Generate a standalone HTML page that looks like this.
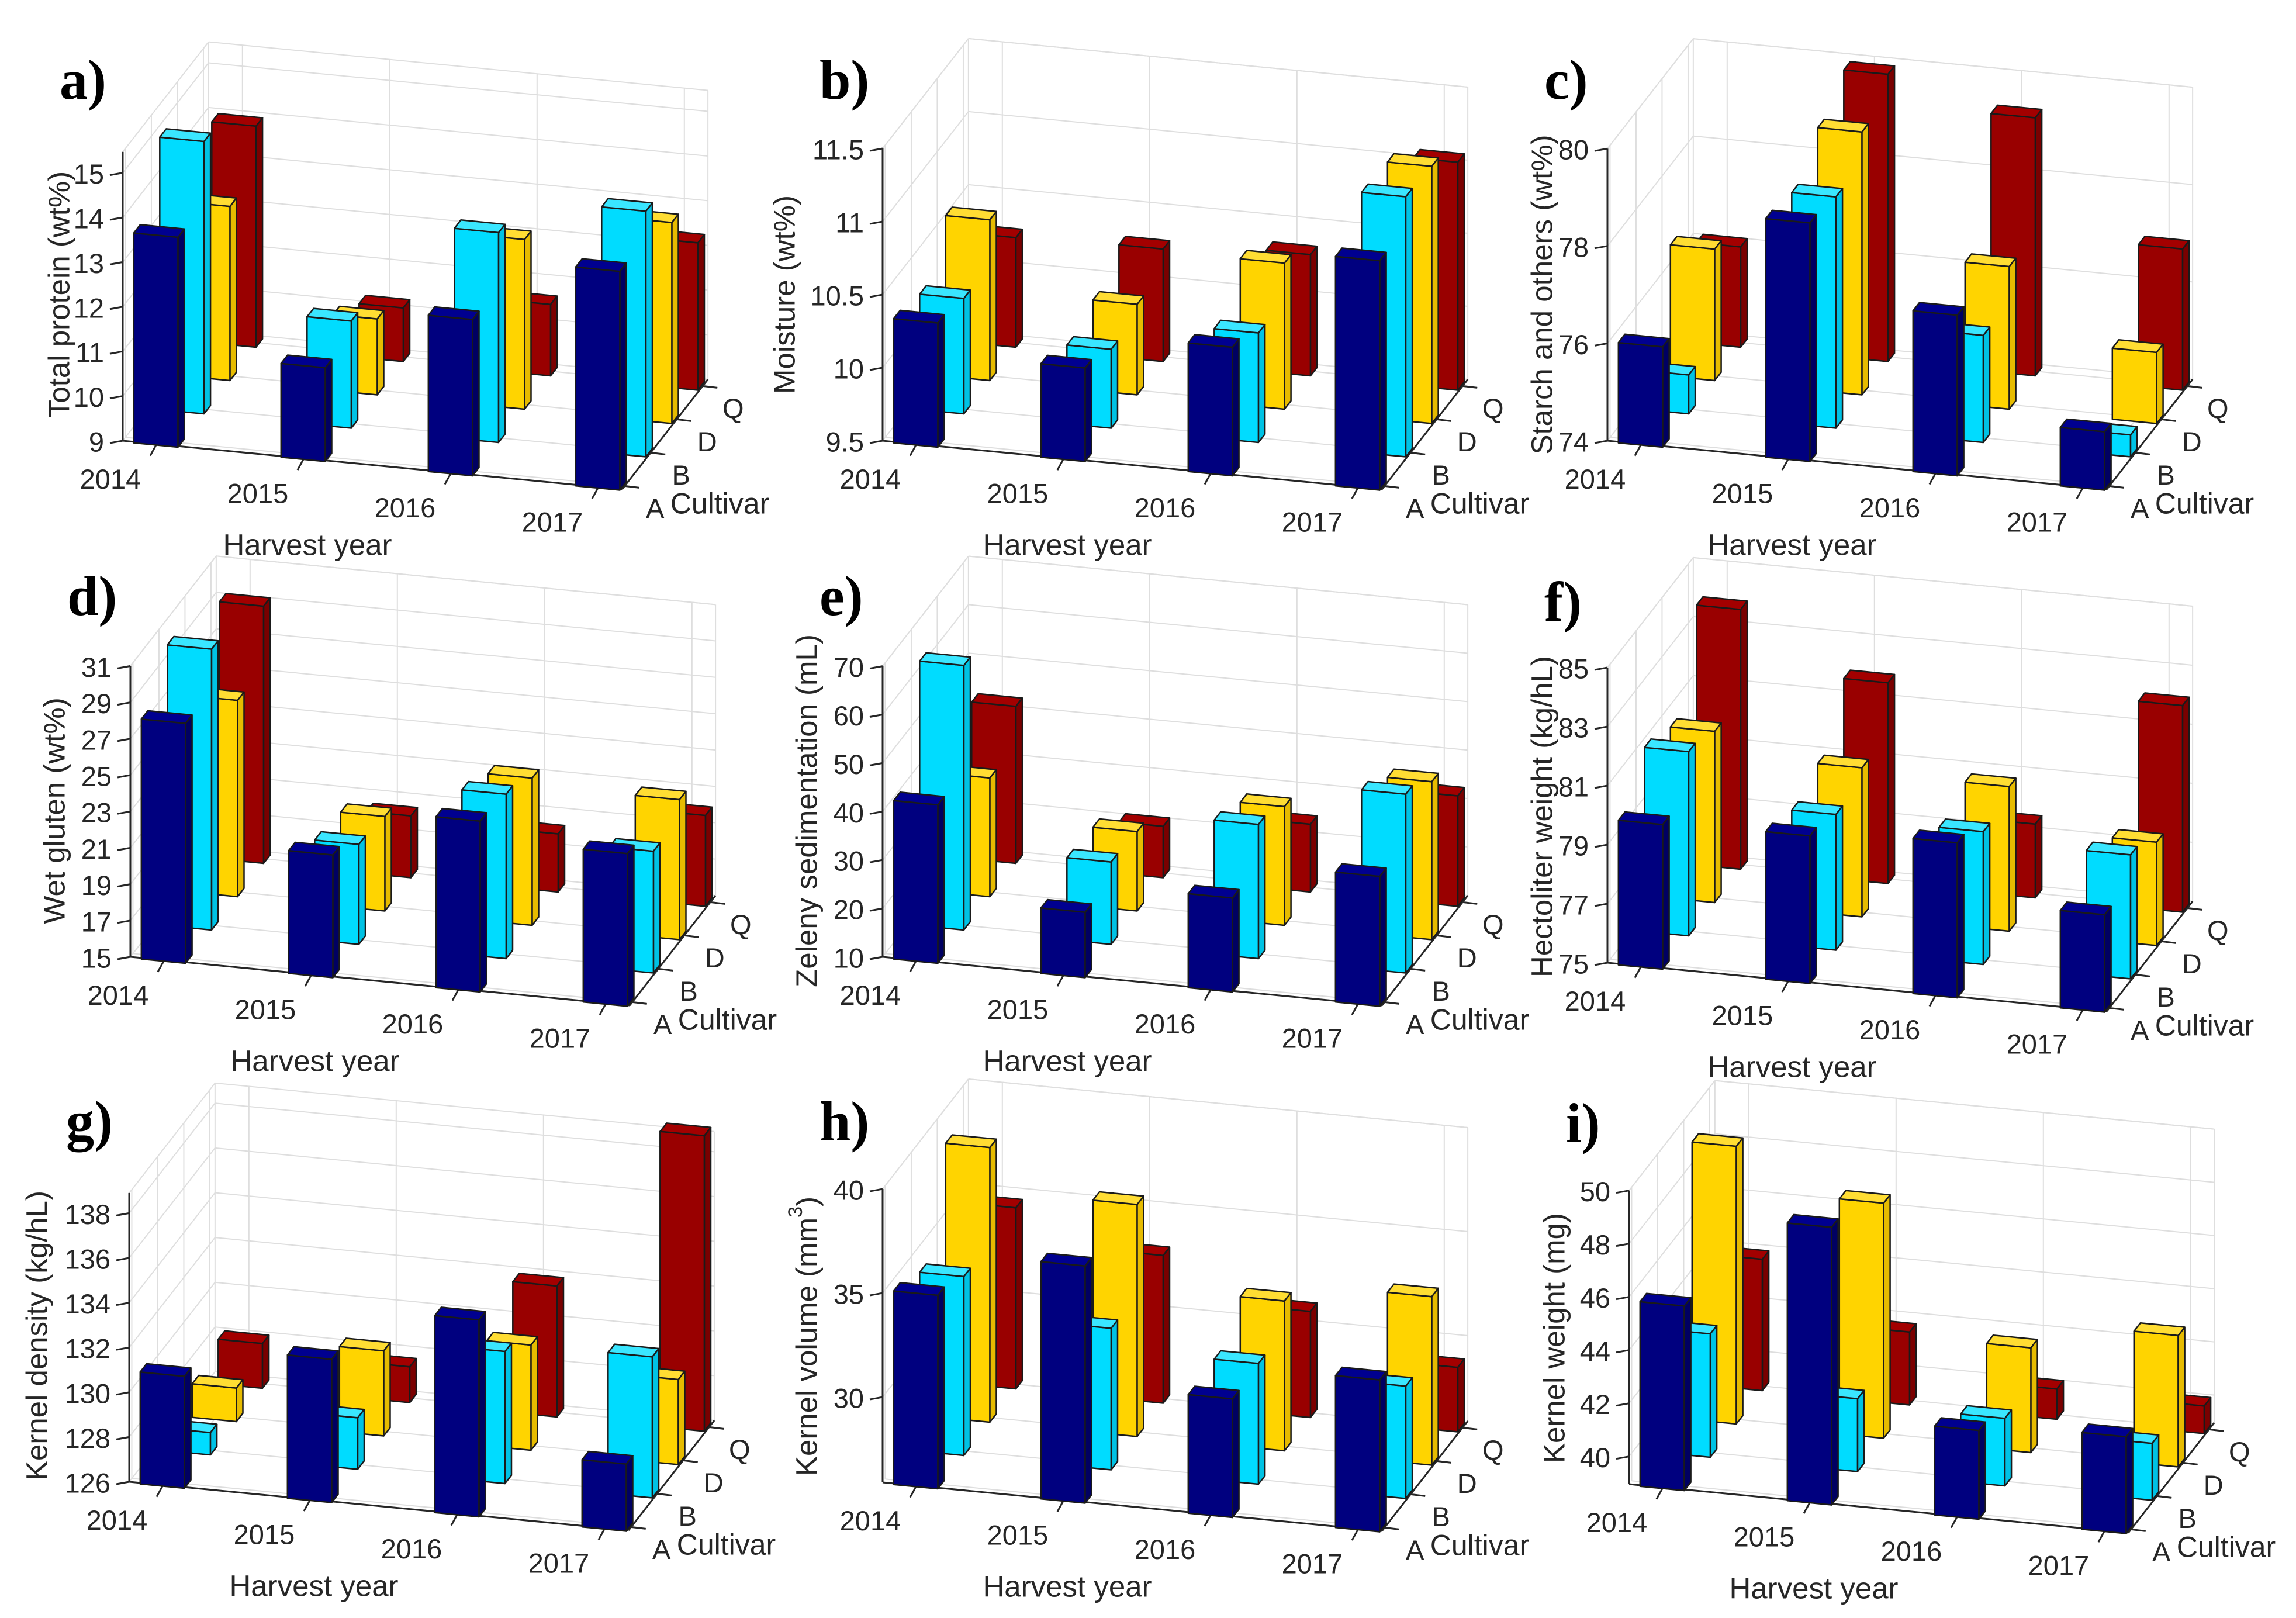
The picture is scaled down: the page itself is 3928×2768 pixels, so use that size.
<!DOCTYPE html>
<html>
<head>
<meta charset="utf-8">
<style>
  html,body{margin:0;padding:0;background:#ffffff;}
  svg{display:block;}
  text{font-family:"Liberation Sans",Arial,sans-serif;fill:#262626;}
  .letter{font-family:"Liberation Serif","Times New Roman",serif;font-weight:bold;fill:#000;}
</style>
</head>
<body>
<svg id="fig" xmlns="http://www.w3.org/2000/svg" width="3928" height="2768" viewBox="0 0 3928 2768">
  <rect x="0" y="0" width="3928" height="2768" fill="#ffffff"></rect>
</svg>
<script>
// ---- data ----
const years = ['2014','2015','2016','2017'];
const cultivars = ['A','B','D','Q'];

const a_A = [13.7, 11.1, 12.5, 13.9];
const a_B = [15.1, 11.4, 13.7, 14.5];
const a_D = [12.9, 10.7, 12.8, 13.5];
const a_Q = [13.95, 10.2, 10.6, 12.3];
const a_ticks = [9, 10, 11, 12, 13, 14, 15];

const b_A = [10.35, 10.14, 10.38, 11.07];
const b_B = [10.29, 10.04, 10.25, 11.28];
const b_D = [10.6, 10.12, 10.5, 11.26];
const b_Q = [10.25, 10.27, 10.33, 11.06];
const b_ticks = [9.5, 10, 10.5, 11, 11.5];

const c_A = [76.06, 78.9, 77.3, 75.2];
const c_B = [74.8, 78.75, 76.2, 74.45];
const c_D = [76.7, 79.4, 76.93, 75.46];
const c_Q = [76.06, 79.9, 79.3, 76.9];
const c_ticks = [74, 76, 78, 80];

const d_A = [28.2, 21.75, 24.4, 23.4];
const d_B = [30.45, 20.5, 24.05, 21.7];
const d_D = [25.8, 20.2, 23.1, 22.7];
const d_Q = [29.15, 18.4, 18.2, 20.0];
const d_ticks = [15, 17, 19, 21, 23, 25, 27, 29, 31];

const e_A = [42.7, 23.5, 29.4, 36.8];
const e_B = [64.6, 27.0, 37.7, 46.9];
const e_D = [34.5, 26.4, 34.5, 42.6];
const e_Q = [42.4, 20.6, 24.0, 32.8];
const e_ticks = [10, 20, 30, 40, 50, 60, 70];

const f_A = [79.9, 80.0, 80.25, 78.3];
const f_B = [81.24, 79.6, 79.5, 79.2];
const f_D = [80.8, 80.05, 79.9, 78.5];
const f_Q = [83.8, 81.8, 77.5, 82.0];
const f_ticks = [75, 77, 79, 81, 83, 85];

const g_A = [131.0, 132.4, 134.8, 129.0];
const g_B = [127.0, 128.3, 131.9, 132.3];
const g_D = [127.5, 129.8, 130.7, 129.8];
const g_Q = [128.0, 127.6, 131.85, 139.2];
const g_ticks = [126, 128, 130, 132, 134, 136, 138];

const h_A = [35.2, 37.3, 31.6, 33.2];
const h_B = [34.5, 32.7, 31.7, 31.3];
const h_D = [39.1, 37.05, 33.1, 34.0];
const h_Q = [34.6, 33.0, 31.0, 29.0];
const h_ticks = [30, 35, 40];

const i_A = [45.9, 49.4, 42.3, 42.6];
const i_B = [43.6, 41.7, 41.5, 41.1];
const i_D = [49.4, 47.8, 42.9, 43.9];
const i_Q = [43.9, 41.7, 40.1, 40.0];
const i_ticks = [40, 42, 44, 46, 48, 50];

// ---- layout / projection ----
const UX = 252, UY = 24.5, VX = 44.5, VY = -57;
const UMAX = 3.39, VMAX = 3.3;
const BAR_U0 = 0.08, BAR_W = 0.3, BAR_V0 = -0.03, BAR_D = 0.25;
const YEAR_TICK_U = 0.23, CULT_TICK_V = 0.1;

const colors = [
  {front:'#00007f', side:'#000062', top:'#000090'},
  {front:'#00dcff', side:'#00c2e4', top:'#3ae6ff'},
  {front:'#ffd400', side:'#e6bb00', top:'#ffdd33'},
  {front:'#990000', side:'#7a0000', top:'#a30000'}
];

const panels = [
  {id:'a', letter:'a)', label:'Total protein (wt%)', cx:210, cy:754, zmin:9, zmax:15.47, ppu:76.4, ticks:a_ticks, series:[a_A,a_B,a_D,a_Q], zlx:-109},
  {id:'b', letter:'b)', label:'Moisture (wt%)', cx:1510, cy:754, zmin:9.5, zmax:11.5, ppu:250, ticks:b_ticks, series:[b_A,b_B,b_D,b_Q], zlx:-168},
  {id:'c', letter:'c)', label:'Starch and others (wt%)', cx:2750, cy:754, zmin:74, zmax:80, ppu:83.3, ticks:c_ticks, series:[c_A,c_B,c_D,c_Q], zlx:-112},
  {id:'d', letter:'d)', label:'Wet gluten (wt%)', cx:223, cy:1637, zmin:15, zmax:31, ppu:31.1, ticks:d_ticks, series:[d_A,d_B,d_D,d_Q], zlx:-130},
  {id:'e', letter:'e)', label:'Zeleny sedimentation (mL)', cx:1510, cy:1637, zmin:10, zmax:70, ppu:8.29, ticks:e_ticks, series:[e_A,e_B,e_D,e_Q], zlx:-130},
  {id:'f', letter:'f)', label:'Hectoliter weight (kg/hL)', cx:2750, cy:1647, zmin:75, zmax:85, ppu:50.5, ticks:f_ticks, series:[f_A,f_B,f_D,f_Q], zlx:-112},
  {id:'g', letter:'g)', label:'Kernel density (kg/hL)', cx:221, cy:2535, zmin:126, zmax:138.9, ppu:38.3, ticks:g_ticks, series:[g_A,g_B,g_D,g_Q], zlx:-158},
  {id:'h', letter:'h)', label:'Kernel volume (mm', sup:'3', cx:1510, cy:2536, zmin:25.9, zmax:40, ppu:35.6, ticks:h_ticks, series:[h_A,h_B,h_D,h_Q], zlx:-130},
  {id:'i', letter:'i)', label:'Kernel weight (mg)', cx:2787, cy:2539, zmin:38.96, zmax:50, ppu:45.5, ticks:i_ticks, series:[i_A,i_B,i_D,i_Q], zlx:-128}
];

const NS = 'http://www.w3.org/2000/svg';
const svg = document.getElementById('fig');

function mk(tag, attrs, parent){
  const e = document.createElementNS(NS, tag);
  for (const k in attrs) e.setAttribute(k, attrs[k]);
  parent.appendChild(e);
  return e;
}
function P(p, u, v, z){
  return [p.cx + u*UX + v*VX, p.cy + u*UY + v*VY - (z - p.zmin)*p.ppu];
}
function pts(arr){ return arr.map(q => q[0].toFixed(1)+','+q[1].toFixed(1)).join(' '); }

function drawPanel(p){
  const g = mk('g', {}, svg);
  
  

  // gridlines
  const grid = mk('g', {stroke:'#dedede','stroke-width':2, fill:'none'}, g);
  
  
  const zLines = p.ticks.concat([p.zmax]);
  zLines.forEach(z => {
    let a = P(p,0,VMAX,z), b = P(p,UMAX,VMAX,z);
    mk('line',{x1:a[0],y1:a[1],x2:b[0],y2:b[1]},grid);
    a = P(p,0,0,z); b = P(p,0,VMAX,z);
    mk('line',{x1:a[0],y1:a[1],x2:b[0],y2:b[1]},grid);
  });
  for (let k=0;k<years.length;k++){
    const u = k + YEAR_TICK_U;
    let a = P(p,u,VMAX,p.zmin), b = P(p,u,VMAX,p.zmax);
    mk('line',{x1:a[0],y1:a[1],x2:b[0],y2:b[1]},grid);
    a = P(p,u,0,p.zmin); b = P(p,u,VMAX,p.zmin);
    mk('line',{x1:a[0],y1:a[1],x2:b[0],y2:b[1]},grid);
  }
  for (let k=0;k<cultivars.length;k++){
    const v = k + CULT_TICK_V;
    let a = P(p,0,v,p.zmin), b = P(p,0,v,p.zmax);
    mk('line',{x1:a[0],y1:a[1],x2:b[0],y2:b[1]},grid);
    a = P(p,0,v,p.zmin); b = P(p,UMAX,v,p.zmin);
    mk('line',{x1:a[0],y1:a[1],x2:b[0],y2:b[1]},grid);
  }
  [[0,VMAX],[UMAX,VMAX]].forEach(c => {
    const a = P(p,c[0],c[1],p.zmin), b = P(p,c[0],c[1],p.zmax);
    mk('line',{x1:a[0],y1:a[1],x2:b[0],y2:b[1]},grid);
  });

  // axes
  const ax = mk('g', {stroke:'#262626','stroke-width':3, fill:'none'}, g);
  
  
  let a0 = P(p,0,0,p.zmin), a1 = P(p,0,0,p.zmax);
  const zAxis = mk('line',{x1:a0[0],y1:a0[1],x2:a1[0],y2:a1[1]},ax);
  
  
  a1 = P(p,UMAX,0,p.zmin);
  const xAxis = mk('line',{x1:a0[0],y1:a0[1],x2:a1[0],y2:a1[1]},ax);
  
  
  const c1 = P(p,UMAX,VMAX,p.zmin);
  const yAxis = mk('line',{x1:a1[0],y1:a1[1],x2:c1[0],y2:c1[1]},ax);
  
  

  // z ticks and labels
  p.ticks.forEach(z => {
    const q = P(p,0,0,z);
    mk('line',{x1:q[0],y1:q[1],x2:q[0]-22,y2:q[1]+4},ax);
    const t = mk('text',{x:q[0]-32,y:q[1]+2,'text-anchor':'end','dominant-baseline':'central','font-size':47},g);
    t.textContent = String(z);
    
    
  });

  // year ticks and labels
  years.forEach((yr,k) => {
    const q = P(p,k+YEAR_TICK_U,0,p.zmin);
    mk('line',{x1:q[0],y1:q[1],x2:q[0]-11,y2:q[1]+20},ax);
    const t = mk('text',{x:q[0]-79,y:q[1]+60,'text-anchor':'middle','dominant-baseline':'central','font-size':47},g);
    t.textContent = yr;
    
    
  });

  // cultivar ticks and labels
  cultivars.forEach((cv,k) => {
    const q = P(p,UMAX,k+CULT_TICK_V,p.zmin);
    mk('line',{x1:q[0],y1:q[1],x2:q[0]+25,y2:q[1]+3},ax);
    const t = mk('text',{x:q[0]+52,y:q[1]+38,'text-anchor':'middle','dominant-baseline':'central','font-size':47},g);
    t.textContent = cv;
    
    
  });
  const qa = P(p,UMAX,CULT_TICK_V,p.zmin);
  const cl = mk('text',{x:qa[0]+78,y:qa[1]+30,'text-anchor':'start','dominant-baseline':'central','font-size':50},g);
  cl.textContent = 'Cultivar';
  
  

  const hy = mk('text',{x:p.cx+316,y:p.cy+178,'text-anchor':'middle','dominant-baseline':'central','font-size':51},g);
  hy.textContent = 'Harvest year';
  
  

  const zx = p.cx + p.zlx, zy = p.cy - 250;
  const zl = mk('text',{x:zx,y:zy,'text-anchor':'middle','dominant-baseline':'central','font-size':51,transform:'rotate(-90 '+zx+' '+zy+')'},g);
  zl.textContent = p.label;
  if (p.sup){
    const s = mk('tspan',{'baseline-shift':'super','font-size':34},zl);
    s.textContent = p.sup;
    const c = mk('tspan',{},zl);
    c.textContent = ')';
  }
  
  

  const lt = mk('text',{x:p.cx-108,y:p.cy-585,'font-size':96,class:'letter'},g);
  lt.textContent = p.letter;
  
  

  // bars
  const bars = mk('g', {stroke:'#1a1a1a','stroke-width':2.5,'stroke-linejoin':'round'}, g);
  
  
  for (let j=cultivars.length-1;j>=0;j--){
    const vals = p.series[j];
    for (let i=0;i<years.length;i++){
      const zt = vals[i], zb = p.zmin;
      const u0 = i + BAR_U0, u1 = u0 + BAR_W, v0 = j + BAR_V0, v1 = v0 + BAR_D;
      const bar = mk('g', {}, bars);
      
      
      mk('polygon',{points:pts([P(p,u1,v0,zb),P(p,u1,v1,zb),P(p,u1,v1,zt),P(p,u1,v0,zt)]),fill:colors[j].side},bar);
      mk('polygon',{points:pts([P(p,u0,v0,zb),P(p,u1,v0,zb),P(p,u1,v0,zt),P(p,u0,v0,zt)]),fill:colors[j].front},bar);
      mk('polygon',{points:pts([P(p,u0,v0,zt),P(p,u1,v0,zt),P(p,u1,v1,zt),P(p,u0,v1,zt)]),fill:colors[j].top},bar);
    }
  }
}

panels.forEach(drawPanel);
</script>
</body>
</html>
